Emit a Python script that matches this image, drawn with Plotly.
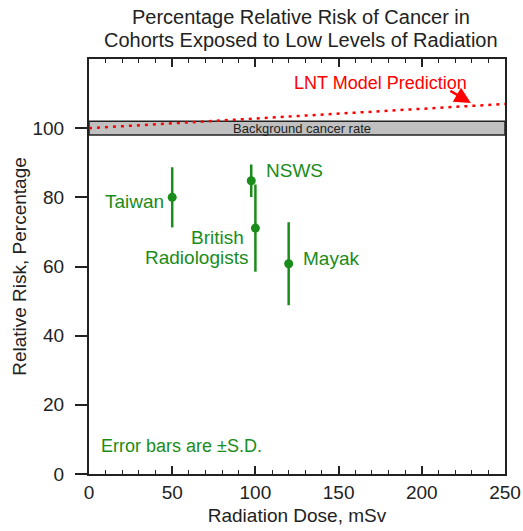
import plotly.graph_objects as go

# Data
cohorts = ["Taiwan", "NSWS", "British Radiologists", "Mayak"]
dose = [50, 97.5, 100, 120]
relative_risk = [80, 84.8, 71.1, 60.8]
sd = [8.7, 4.7, 12.6, 12.0]

lnt_dose = [0, 250]
lnt_risk = [100, 107]

background_low = 98
background_high = 102

x_ticks = [0, 50, 100, 150, 200, 250]
y_ticks = [0, 20, 40, 60, 80, 100]

title_lines = ["Percentage Relative Risk of Cancer in",
               "Cohorts Exposed to Low Levels of Radiation"]

GREEN = "#1a8c1a"
FONT = "Liberation Sans, Arial, sans-serif"

W, H = 523, 531
ML, MR, MT, MB = 89, 18, 59, 57
PW, PH = W - ML - MR, H - MT - MB

fig = go.Figure()

fig.add_trace(go.Scatter(
    x=lnt_dose, y=lnt_risk, mode="lines",
    line=dict(color="red", width=2.5, dash="3px,5px"),
    showlegend=False, hoverinfo="skip"))

fig.add_trace(go.Scatter(
    x=dose, y=relative_risk, mode="markers",
    marker=dict(color=GREEN, size=9),
    error_y=dict(type="data", array=sd, visible=True, color=GREEN, thickness=2.5, width=0),
    showlegend=False, text=cohorts))

fig.add_shape(type="rect", xref="paper", x0=0, x1=1, yref="y",
              y0=background_low, y1=background_high,
              fillcolor="#c0c0c0", line=dict(color="#222", width=1.5), layer="below")

ann = []
def label(text, x, y, anchor, color=GREEN, size=19):
    ann.append(dict(text=text, x=x, y=y, xref="x", yref="y", xanchor=anchor,
                    yanchor="middle", showarrow=False, font=dict(color=color, size=size, family=FONT)))

label("Taiwan", 46.4, 78.9, "right")
label("NSWS", 105.4, 87.7, "left")
label("British", 94.2, 68.3, "right")
label("Radiologists", 97.2, 62.5, "right")
label("Mayak", 127.5, 62.3, "left")
label("Error bars are ±S.D.", 6, 8, "left", size=18)
label("LNT Model Prediction", 175, 113.1, "center", color="red", size=18)
label("Background cancer rate", 128, 100, "center", color="#222", size=13)

ann.append(dict(text="", x=229.5, y=107.3, xref="x", yref="y", ax=-22, ay=-13,
                showarrow=True, arrowcolor="red", arrowwidth=2.5, arrowhead=2,
                arrowsize=1.3))

# title lines placed as two centred texts (pixel positions converted to paper coords)
for i, line in enumerate(title_lines):
    ypix = 17 + 23 * i
    ann.append(dict(text=line, x=(301 - ML) / PW, y=(H - MB - ypix) / PH,
                    xref="paper", yref="paper",
                    xanchor="center", yanchor="middle", showarrow=False,
                    font=dict(size=20, family=FONT, color="#222")))

fig.update_layout(
    width=W, height=H,
    margin=dict(l=ML, r=MR, t=MT, b=MB),
    paper_bgcolor="white", plot_bgcolor="white",
    font=dict(family=FONT, size=19, color="#222"),
    annotations=ann,
    xaxis=dict(range=[0, 250], tickvals=x_ticks, ticks="inside", ticklen=8, tickwidth=1.5,
               tickcolor="#222", showline=True, linecolor="#222", linewidth=2, mirror="ticks",
               showgrid=False, zeroline=False, automargin=False,
               minor=dict(dtick=10, ticks="inside", ticklen=4, tickwidth=1, tickcolor="#222", showgrid=False),
               title=dict(text="Radiation Dose, mSv", standoff=7, font=dict(size=19)),
               tickfont=dict(size=19)),
    yaxis=dict(range=[0, 120], tickvals=y_ticks, ticks="outside", ticklen=12, tickwidth=1.5,
               tickcolor="#222", showline=True, linecolor="#222", linewidth=2, mirror=True,
               showgrid=False, zeroline=False, automargin=False, ticklabelstandoff=7,
               title=dict(text="Relative Risk, Percentage", standoff=1, font=dict(size=19)),
               tickfont=dict(size=19)),
)

fig.write_html("out.html", post_script="document.body.style.margin='0px';",
               config={"displayModeBar": False})
